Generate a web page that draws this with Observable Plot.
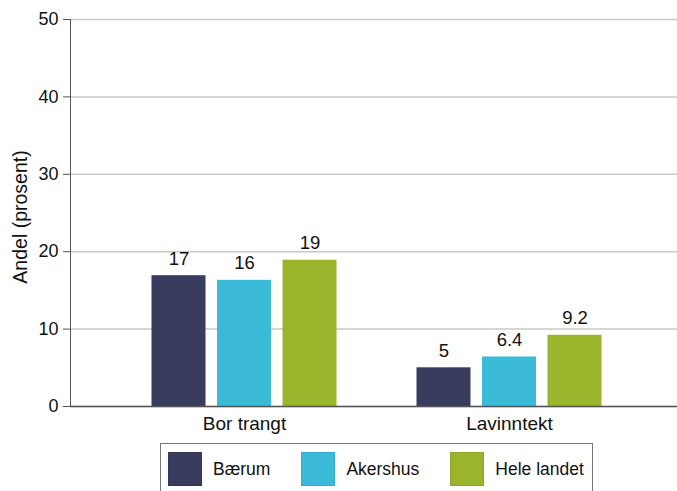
<!DOCTYPE html>
<html><head><meta charset="utf-8">
<script src="https://cdn.jsdelivr.net/npm/d3@7"></script>
<script src="https://cdn.jsdelivr.net/npm/@observablehq/plot@0.6"></script>
<style>
body{margin:0;background:#fff;font-family:"Liberation Sans",Arial,sans-serif;}
#wrap{position:relative;width:677px;height:491px;overflow:hidden;background:#fff}
#legend{position:absolute;left:160px;top:443px;width:433px;height:60px;border:1px solid #777;box-sizing:border-box;display:flex;align-items:flex-start;padding-left:7px;padding-top:8px}
.sw{width:34px;height:34px;box-sizing:border-box;border:1px solid rgba(0,0,0,0.08);margin-right:11px;flex:none}
.lab{font-size:17.5px;color:#111;margin-right:31px;line-height:34px;white-space:nowrap}
</style></head><body><div id="wrap"><div id="chart"></div><div id="legend"></div></div>
<script>
const groups = ["Bor trangt", "Lavinntekt"];
const series = ["Bærum", "Akershus", "Hele landet"];
const colors = ["#3a3c5f", "#3bbbd7", "#9ab42c"];
const borTrangt = [16.9, 16.3, 18.9];
const lavinntekt = [5.0, 6.4, 9.2];
const borTrangtLabels = ["17", "16", "19"];
const lavinntektLabels = ["5", "6.4", "9.2"];
const yTicks = [0, 10, 20, 30, 40, 50];
const yLabel = "Andel (prosent)";

const values = [borTrangt, lavinntekt];
const labels = [borTrangtLabels, lavinntektLabels];
const data = [];
groups.forEach((g, gi) => series.forEach((s, si) =>
  data.push({group: g, series: s, value: values[gi][si], label: labels[gi][si]})));

// horizontal distance between neighbouring bars inside a group (px)
const barStep = 65.5;
const font = "Liberation Sans, Arial, sans-serif";

const seriesMarks = series.flatMap((s, si) => {
  const rows = data.filter(d => d.series === s);
  const dx = (si - 1) * barStep;
  return [
    Plot.barY(rows, {x: "group", y: "value", fill: "series", dx}),
    Plot.text(rows, {x: "group", y: "value", text: "label", dx, dy: -17, fontSize: 18.5, fill: "#111"})
  ];
});

const plot = Plot.plot({
  width: 677, height: 440,
  marginLeft: 70, marginRight: 0, marginTop: 19, marginBottom: 34,
  style: {fontFamily: font, fontSize: "17px", color: "#111", background: "#fff", overflow: "visible"},
  x: {domain: groups, paddingInner: 0.797, paddingOuter: 0.54, align: 0.509, label: null},
  y: {domain: [0, 50], label: null},
  color: {domain: series, range: colors},
  marks: [
    Plot.gridY(yTicks, {stroke: "#c8c8c8", strokeOpacity: 1, strokeWidth: 1.5}),
    ...seriesMarks,
    Plot.axisY(yTicks, {tickSize: 7, tickPadding: 5, fontSize: 18, stroke: "#555", label: null}),
    Plot.text([yLabel], {frameAnchor: "left", textAnchor: "middle", rotate: -90, dx: -50, dy: 4, fontSize: 19.5, fill: "#111"}),
    Plot.axisX({tickSize: 0, tickPadding: 10, fontSize: 19, label: null}),
    Plot.frame({anchor: "left", stroke: "#555", strokeOpacity: 1}),
    Plot.ruleY([0], {stroke: "#555", strokeWidth: 1.5})
  ]
});
document.getElementById("chart").appendChild(plot);

const legend = document.getElementById("legend");
series.forEach((s, i) => {
  const sw = document.createElement("div");
  sw.className = "sw"; sw.style.background = colors[i];
  const lab = document.createElement("div");
  lab.className = "lab"; lab.textContent = s;
  legend.appendChild(sw); legend.appendChild(lab);
});
</script></body></html>
